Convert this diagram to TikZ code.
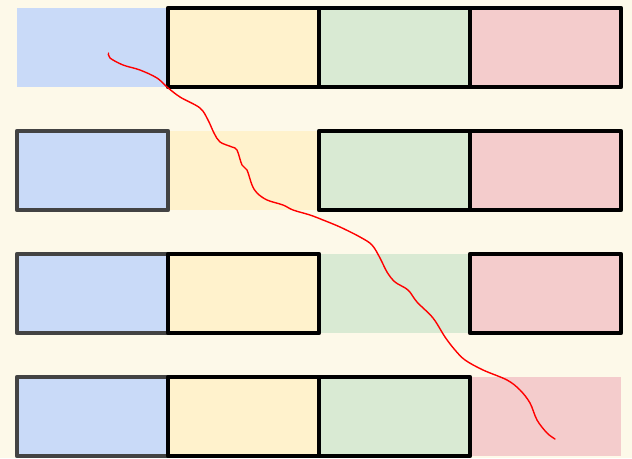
\documentclass[tikz,border=0pt]{standalone}
\usetikzlibrary{calc}
\definecolor{bgcream}{HTML}{FDF9E9}
\definecolor{cblue}{HTML}{C9DAF8}
\definecolor{cyellow}{HTML}{FFF2CC}
\definecolor{cgreen}{HTML}{D9EAD3}
\definecolor{cred}{HTML}{F4CCCC}
\definecolor{cgray}{HTML}{434343}
\tikzset{
  cell/.style={rectangle, minimum width=151pt, minimum height=79pt, inner sep=0pt, outer sep=0pt, draw=none},
  blackborder/.style={draw=black, line width=4.4pt, line join=round},
  grayborder/.style={draw=cgray, line width=4.4pt, line join=round},
  stroke/.style={draw=red, line width=1.4pt, line cap=round, line join=round}
}
\begin{document}
\begin{tikzpicture}[x=1pt,y=-1pt]
\fill[bgcream] (0,0) rectangle (632,458);
\useasboundingbox (0,0) rectangle (632,458);
% fills
\foreach \r/\y in {1/47.5,2/170.5,3/293.5,4/416.5}{
  \node[cell, fill=cblue]   (r\r c1) at (92.5,\y) {};
  \node[cell, fill=cyellow] (r\r c2) at (243.5,\y) {};
  \node[cell, fill=cgreen]  (r\r c3) at (394.5,\y) {};
  \node[cell, fill=cred]    (r\r c4) at (545.5,\y) {};
}
% gray borders (blue cells, rows 2-4)
\foreach \r in {2,3,4}{
  \draw[grayborder] (r\r c1.north west) rectangle (r\r c1.south east);
}
% black borders
\foreach \r/\c in {1/2,1/3,1/4,2/3,2/4,3/2,3/4,4/2,4/3}{
  \draw[blackborder] (r\r c\c.north west) rectangle (r\r c\c.south east);
}
% red freehand stroke
\coordinate (s0) at (108.5,53);
\coordinate (s1) at (555,439);
\draw[stroke] plot[smooth, tension=0.55] coordinates {
 (s0) (110,58) (123,65) (140,70) (157,78) (167,87) (180,97) (200,108)
 (208,120) (214,133) (220,142) (232,147) (237,150) (242,165) (247,170) (252,185)
 (257,193) (267,200) (283,205) (293,210) (310,215) (323,220) (340,227)
 (360,237) (372,245) (380,258) (387,272) (395,282) (408,290) (417,302)
 (433,318) (445,337) (455,350) (465,360) (483,370) (507,380) (520,390)
 (530,403) (537,420) (547,433) (s1)
};
\end{tikzpicture}
\end{document}
